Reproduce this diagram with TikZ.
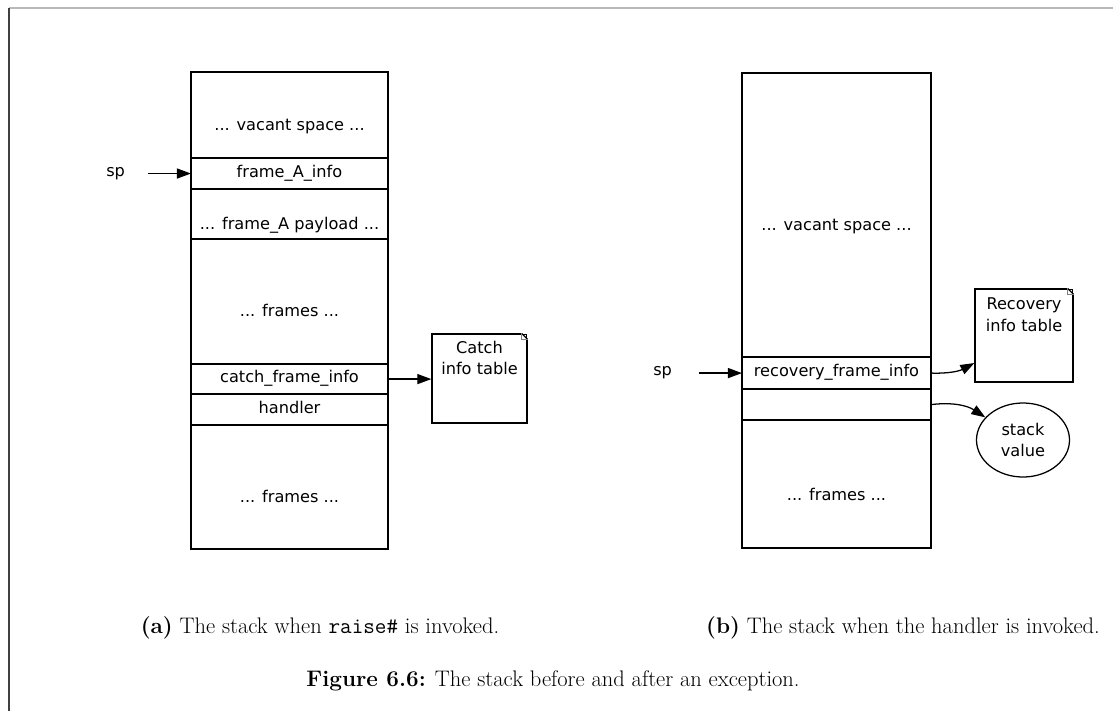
\documentclass[tikz,border=0pt]{standalone}
\usepackage{fontspec}
\newfontfamily\stackfont{DejaVu Sans}
\usetikzlibrary{positioning,arrows.meta,shapes.geometric}

\begin{document}
\begin{tikzpicture}[x=0.025cm,y=-0.025cm]
	\tikzset{
	cell/.style={draw, line width=0.9pt, inner sep=0pt, outer sep=0pt, text height=0.8em, text depth=0.25em, font=\stackfont\fontsize{11.5}{14}\selectfont},
	tall/.style={text height=2.4em},
	note/.style={draw, line width=0.9pt, inner sep=0pt, align=center, font=\stackfont\fontsize{11.5}{15}\selectfont},
	lbl/.style={font=\stackfont\fontsize{11.5}{14}\selectfont},
	capt/.style={inner sep=0pt, font=\fontsize{16}{19}\selectfont},
	arrow/.style={-{Triangle[length=3.5mm,width=2.5mm]}, line width=0.9pt}}

	\def\wa{49.25mm}
	\def\wb{47.25mm}

	\useasboundingbox (0,0) rectangle (1113,711);

	%page frame
	\draw[gray!55, line width=0.8pt] (9,8) -- (1113,8);
	\draw[black!75, line width=0.8pt] (9,8) -- (9,711);

	%stack when raise# is invoked
	\node[cell, tall, minimum width=\wa, minimum height=21.5mm, anchor=north] (vacA) at (289.5,72) {... vacant space ...};
	\node[cell, minimum width=\wa, minimum height=7.75mm, below=0pt of vacA] (infoA) {frame\_A\_info};
	\node[cell, tall, minimum width=\wa, minimum height=12.5mm, below=0pt of infoA] (loadA) {... frame\_A payload ...};
	\node[cell, tall, minimum width=\wa, minimum height=31.25mm, below=0pt of loadA] (frmA) {... frames ...};
	\node[cell, minimum width=\wa, minimum height=7.5mm, below=0pt of frmA] (catchA) {catch\_frame\_info};
	\node[cell, minimum width=\wa, minimum height=7.75mm, below=0pt of catchA] (hdlA) {handler};
	\node[cell, tall, minimum width=\wa, minimum height=31mm, below=0pt of hdlA] (restA) {... frames ...};

	\node[lbl, left=15.25mm of infoA] (spA) {sp};
	\draw[arrow, shorten <=4.5mm] (spA.east) -- (infoA.west);

	\node[note, minimum width=23.75mm, text height=10.1mm, text depth=12.1mm] (catchTbl) at (479.5,378.5) {Catch\\info table};
	\draw[white, line width=1pt] ([xshift=-1.5mm]catchTbl.north east) -- (catchTbl.north east) -- ([yshift=-1.5mm]catchTbl.north east);
	\draw[line width=0.9pt] ([xshift=-1.5mm]catchTbl.north east) -- ([yshift=-1.5mm]catchTbl.north east);
	\draw[gray, line width=0.5pt] ([xshift=-1.5mm]catchTbl.north east) |- ([yshift=-1.5mm]catchTbl.north east);

	\draw[arrow] (catchA.east) -- (catchA.east -| catchTbl.west);

	%stack when the handler is invoked
	\node[cell, tall, minimum width=\wb, minimum height=71mm, anchor=north] (vacB) at (836.5,73) {... vacant space ...};
	\node[cell, minimum width=\wb, minimum height=8mm, below=0pt of vacB] (recB) {recovery\_frame\_info};
	\node[cell, minimum width=\wb, minimum height=7.75mm, below=0pt of recB] (emptyB) {};
	\node[cell, tall, text height=2.6em, minimum width=\wb, minimum height=32mm, below=0pt of emptyB] (restB) {... frames ...};

	\node[lbl, left=16.25mm of recB] (spB) {sp};
	\draw[arrow, shorten <=5.5mm] (spB.east) -- (recB.west);

	\node[note, minimum width=24.5mm, text height=10.5mm, text depth=12.75mm] (recTbl) at (1024,335.5) {Recovery\\info table};
	\draw[white, line width=1pt] ([xshift=-1.5mm]recTbl.north east) -- (recTbl.north east) -- ([yshift=-1.5mm]recTbl.north east);
	\draw[line width=0.9pt] ([xshift=-1.5mm]recTbl.north east) -- ([yshift=-1.5mm]recTbl.north east);
	\draw[gray, line width=0.5pt] ([xshift=-1.5mm]recTbl.north east) |- ([yshift=-1.5mm]recTbl.north east);

	\node[ellipse, draw, line width=0.9pt, inner sep=0pt, minimum width=23.25mm, minimum height=18.5mm, align=center, font=\stackfont\fontsize{11.5}{14.5}\selectfont] (valB) at (1023,440) {stack\\value};

	\draw[arrow] (recB.east) to[bend right=15] (recTbl.209);
	\draw[arrow] (emptyB.east) to[bend left=20] (valB.149);

	%captions
	\node[capt] (capA) at (320,628) {\textbf{(a)} The stack when \texttt{raise\#} is invoked.};
	\node[capt] (capB) at (903,628) {\textbf{(b)} The stack when the handler is invoked.};
	\node[capt] (figCap) at (553,681) {\textbf{Figure 6.6:} The stack before and after an exception.};

\end{tikzpicture}
\end{document}
